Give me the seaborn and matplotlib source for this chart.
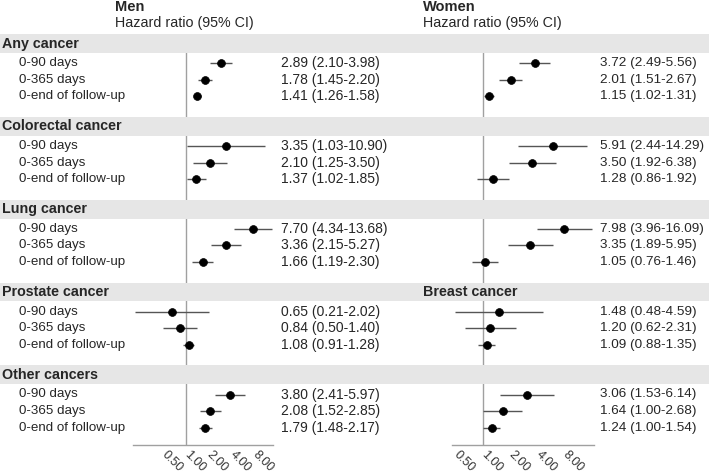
import matplotlib
matplotlib.use('Agg')
import matplotlib.pyplot as plt
import seaborn as sns
import pandas as pd

groups_men = ['Any cancer', 'Colorectal cancer', 'Lung cancer', 'Prostate cancer', 'Other cancers']
groups_women = ['Any cancer', 'Colorectal cancer', 'Lung cancer', 'Breast cancer', 'Other cancers']
periods = ['0-90 days', '0-365 days', '0-end of follow-up']

men_hr = [2.89, 1.78, 1.41, 3.35, 2.10, 1.37, 7.70, 3.36, 1.66, 0.65, 0.84, 1.08, 3.80, 2.08, 1.79]
men_lo = [2.10, 1.45, 1.26, 1.03, 1.25, 1.02, 4.34, 2.15, 1.19, 0.21, 0.50, 0.91, 2.41, 1.52, 1.48]
men_hi = [3.98, 2.20, 1.58, 10.90, 3.50, 1.85, 13.68, 5.27, 2.30, 2.02, 1.40, 1.28, 5.97, 2.85, 2.17]

women_hr = [3.72, 2.01, 1.15, 5.91, 3.50, 1.28, 7.98, 3.35, 1.05, 1.48, 1.20, 1.09, 3.06, 1.64, 1.24]
women_lo = [2.49, 1.51, 1.02, 2.44, 1.92, 0.86, 3.96, 1.89, 0.76, 0.48, 0.62, 0.88, 1.53, 1.00, 1.00]
women_hi = [5.56, 2.67, 1.31, 14.29, 6.38, 1.92, 16.09, 5.95, 1.46, 4.59, 2.31, 1.35, 6.14, 2.68, 1.54]

ticks = [0.5, 1, 2, 4, 8]
tick_labels = ['0.50', '1.00', '2.00', '4.00', '8.00']

sns.set_style('white')
plt.rcParams['font.family'] = ['Liberation Sans', 'DejaVu Sans']

W, H = 709, 475
ROW_PX, ROW1_PX = 16.56, 63.3


def yu(px):
    # figure pixel row -> row units
    return 1 + (px - ROW1_PX) / ROW_PX


def make_df(groups, hr, lo, hi):
    rows = []
    for g, grp in enumerate(groups):
        for r, per in enumerate(periods):
            i = g * 3 + r
            rows.append(dict(group=grp, period=per, pos=g * 5 + r + 1,
                             hr=hr[i], lo=lo[i], hi=hi[i]))
    return pd.DataFrame(rows)


men = make_df(groups_men, men_hr, men_lo, men_hi)
women = make_df(groups_women, women_hr, women_lo, women_hi)

fig = plt.figure(figsize=(W / 100, H / 100), dpi=100)


def forest(df, x0, x1, xlim):
    top, bottom = 34, 445
    ax = fig.add_axes([x0 / W, 1 - bottom / H, (x1 - x0) / W, (bottom - top) / H], zorder=1)
    ax.set_xscale('log')
    ax.axvline(1, color='#a0a0a0', lw=1, zorder=1)
    ax.hlines(df['pos'], df['lo'], df['hi'], color='#555555', lw=1, zorder=2)
    sns.scatterplot(data=df, x='hr', y='pos', ax=ax, color='black', s=32,
                    edgecolor='black', linewidth=0.5, zorder=3, legend=False)
    ax.set_xlim(*xlim)
    ax.set_ylim(yu(bottom), yu(top))
    ax.set_xticks(ticks)
    ax.set_xticklabels(tick_labels, rotation=-45, ha='left', va='center',
                       rotation_mode='anchor', fontsize=9, color='#333333')
    ax.minorticks_off()
    ax.tick_params(axis='x', length=2, color='#a0a0a0', pad=4)
    ax.set_yticks([])
    ax.set_xlabel('')
    ax.set_ylabel('')
    for s in ['top', 'right', 'left']:
        ax.spines[s].set_visible(False)
    ax.spines['bottom'].set_color('#a0a0a0')
    ax.spines['bottom'].set_linewidth(1)
    ax.patch.set_alpha(0)
    return ax


forest(men, 133, 273, (0.2, 14))
forest(women, 452, 594, (0.45, 17))

# overlay for bands and text
bg = fig.add_axes([0, 0, 1, 1], zorder=2)
bg.set_xlim(0, W)
bg.set_ylim(yu(H), yu(0))
bg.axis('off')
bg.patch.set_alpha(0)

for g in range(len(groups_men)):
    c = g * 5 - 0.19
    bg.axhspan(c - 0.57, c + 0.57, color='#e6e6e6', lw=0, zorder=1)
    bg.text(2, c, groups_men[g], fontsize=10.3, fontweight='bold', va='center', ha='left', zorder=3)
    if groups_women[g] != groups_men[g]:
        bg.text(423, c, groups_women[g], fontsize=10.3, fontweight='bold', va='center', ha='left', zorder=3)

for _, r in men.iterrows():
    bg.text(19, r['pos'], r['period'], fontsize=9.6, va='center', ha='left', zorder=3)
    bg.text(281, r['pos'], f"{r['hr']:.2f} ({r['lo']:.2f}-{r['hi']:.2f})",
            fontsize=10, va='center', ha='left', zorder=3)
for _, r in women.iterrows():
    bg.text(600, r['pos'], f"{r['hr']:.2f} ({r['lo']:.2f}-{r['hi']:.2f})",
            fontsize=9.7, va='center', ha='left', zorder=3)

for x, name in [(115, 'Men'), (423, 'Women')]:
    bg.text(x, yu(7.5), name, fontsize=10.5, fontweight='bold', va='center', ha='left')
    bg.text(x, yu(23.5), 'Hazard ratio (95% CI)', fontsize=10.3, va='center', ha='left')

fig.savefig('out.png', dpi=100)
